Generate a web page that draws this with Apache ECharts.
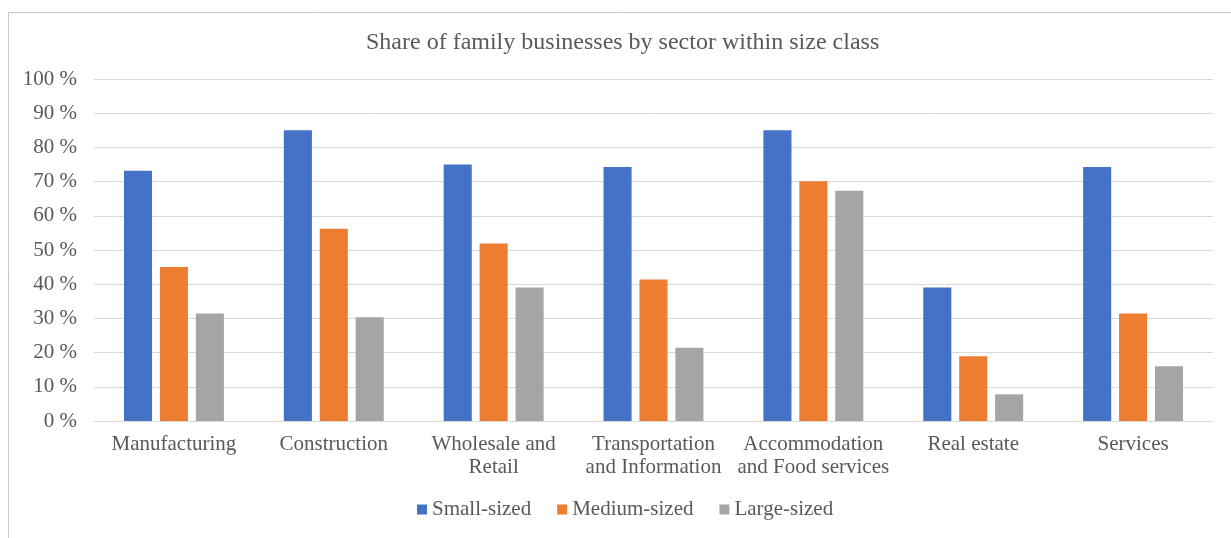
<!DOCTYPE html>
<html>
<head>
<meta charset="utf-8">
<title>Share of family businesses by sector within size class</title>
<script src="https://cdn.jsdelivr.net/npm/echarts@6/dist/echarts.min.js"></script>
<style>
  html, body { margin: 0; padding: 0; background: #ffffff; }
  #chart { width: 1231px; height: 538px; }
</style>
</head>
<body>
<div id="chart"></div>
<script>
// Sectors along the x axis
const sectors = [
  'Manufacturing',
  'Construction',
  'Wholesale and\nRetail',
  'Transportation\nand Information',
  'Accommodation\nand Food services',
  'Real estate',
  'Services'
];

// Share of family businesses (%) per size class
const smallSized  = [73.2, 85.0, 75.0, 74.3, 85.0, 39.0, 74.3];
const mediumSized = [45.0, 56.2, 51.9, 41.4, 70.1, 18.9, 31.4];
const largeSized  = [31.4, 30.3, 39.0, 21.4, 67.3, 7.8, 16.0];

const seriesNames = ['Small-sized', 'Medium-sized', 'Large-sized'];
const yTicks = { min: 0, max: 100, step: 10 };

const textColor = '#595959';
const serif = '"Liberation Serif", "Times New Roman", serif';

const chart = echarts.init(document.getElementById('chart'), null, { renderer: 'canvas' });

function barSeries(name, data, color) {
  return {
    name: name,
    type: 'bar',
    data: data,
    barGap: '28%',
    barCategoryGap: '37.5%',
    itemStyle: { color: color },
    emphasis: { disabled: true }
  };
}

chart.setOption({
  animation: false,
  backgroundColor: '#ffffff',
  textStyle: { fontFamily: serif, color: textColor },
  graphic: [{
    type: 'rect',
    shape: { x: 8.5, y: 12.5, width: 1300, height: 600 },
    style: { fill: 'none', stroke: '#c6c6c6', lineWidth: 1 },
    silent: true,
    z: -1
  }],
  title: {
    text: 'Share of family businesses by sector within size class',
    left: 361,
    top: 26,
    textStyle: { fontFamily: serif, fontWeight: 'normal', fontSize: 24, color: textColor }
  },
  grid: { left: 94, right: 18, top: 79, bottom: 117, containLabel: false },
  legend: {
    data: seriesNames,
    bottom: 13,
    left: 412,
    itemWidth: 10,
    itemHeight: 10,
    itemGap: 26,
    icon: 'rect',
    textStyle: { fontFamily: serif, fontSize: 21, color: textColor }
  },
  xAxis: {
    type: 'category',
    data: sectors,
    axisTick: { show: false },
    axisLine: { lineStyle: { color: '#d9d9d9', width: 1 } },
    axisLabel: {
      interval: 0,
      margin: 12,
      fontFamily: serif,
      fontSize: 21,
      lineHeight: 23,
      color: textColor
    }
  },
  yAxis: {
    type: 'value',
    min: yTicks.min,
    max: yTicks.max,
    interval: yTicks.step,
    axisLine: { show: false },
    axisTick: { show: false },
    splitLine: { lineStyle: { color: '#d9d9d9', width: 1 } },
    axisLabel: {
      formatter: '{value} %',
      margin: 17,
      fontFamily: serif,
      fontSize: 21,
      color: textColor
    }
  },
  series: [
    barSeries(seriesNames[0], smallSized, '#4472C4'),
    barSeries(seriesNames[1], mediumSized, '#ED7D31'),
    barSeries(seriesNames[2], largeSized, '#A5A5A5')
  ]
});
</script>
</body>
</html>
